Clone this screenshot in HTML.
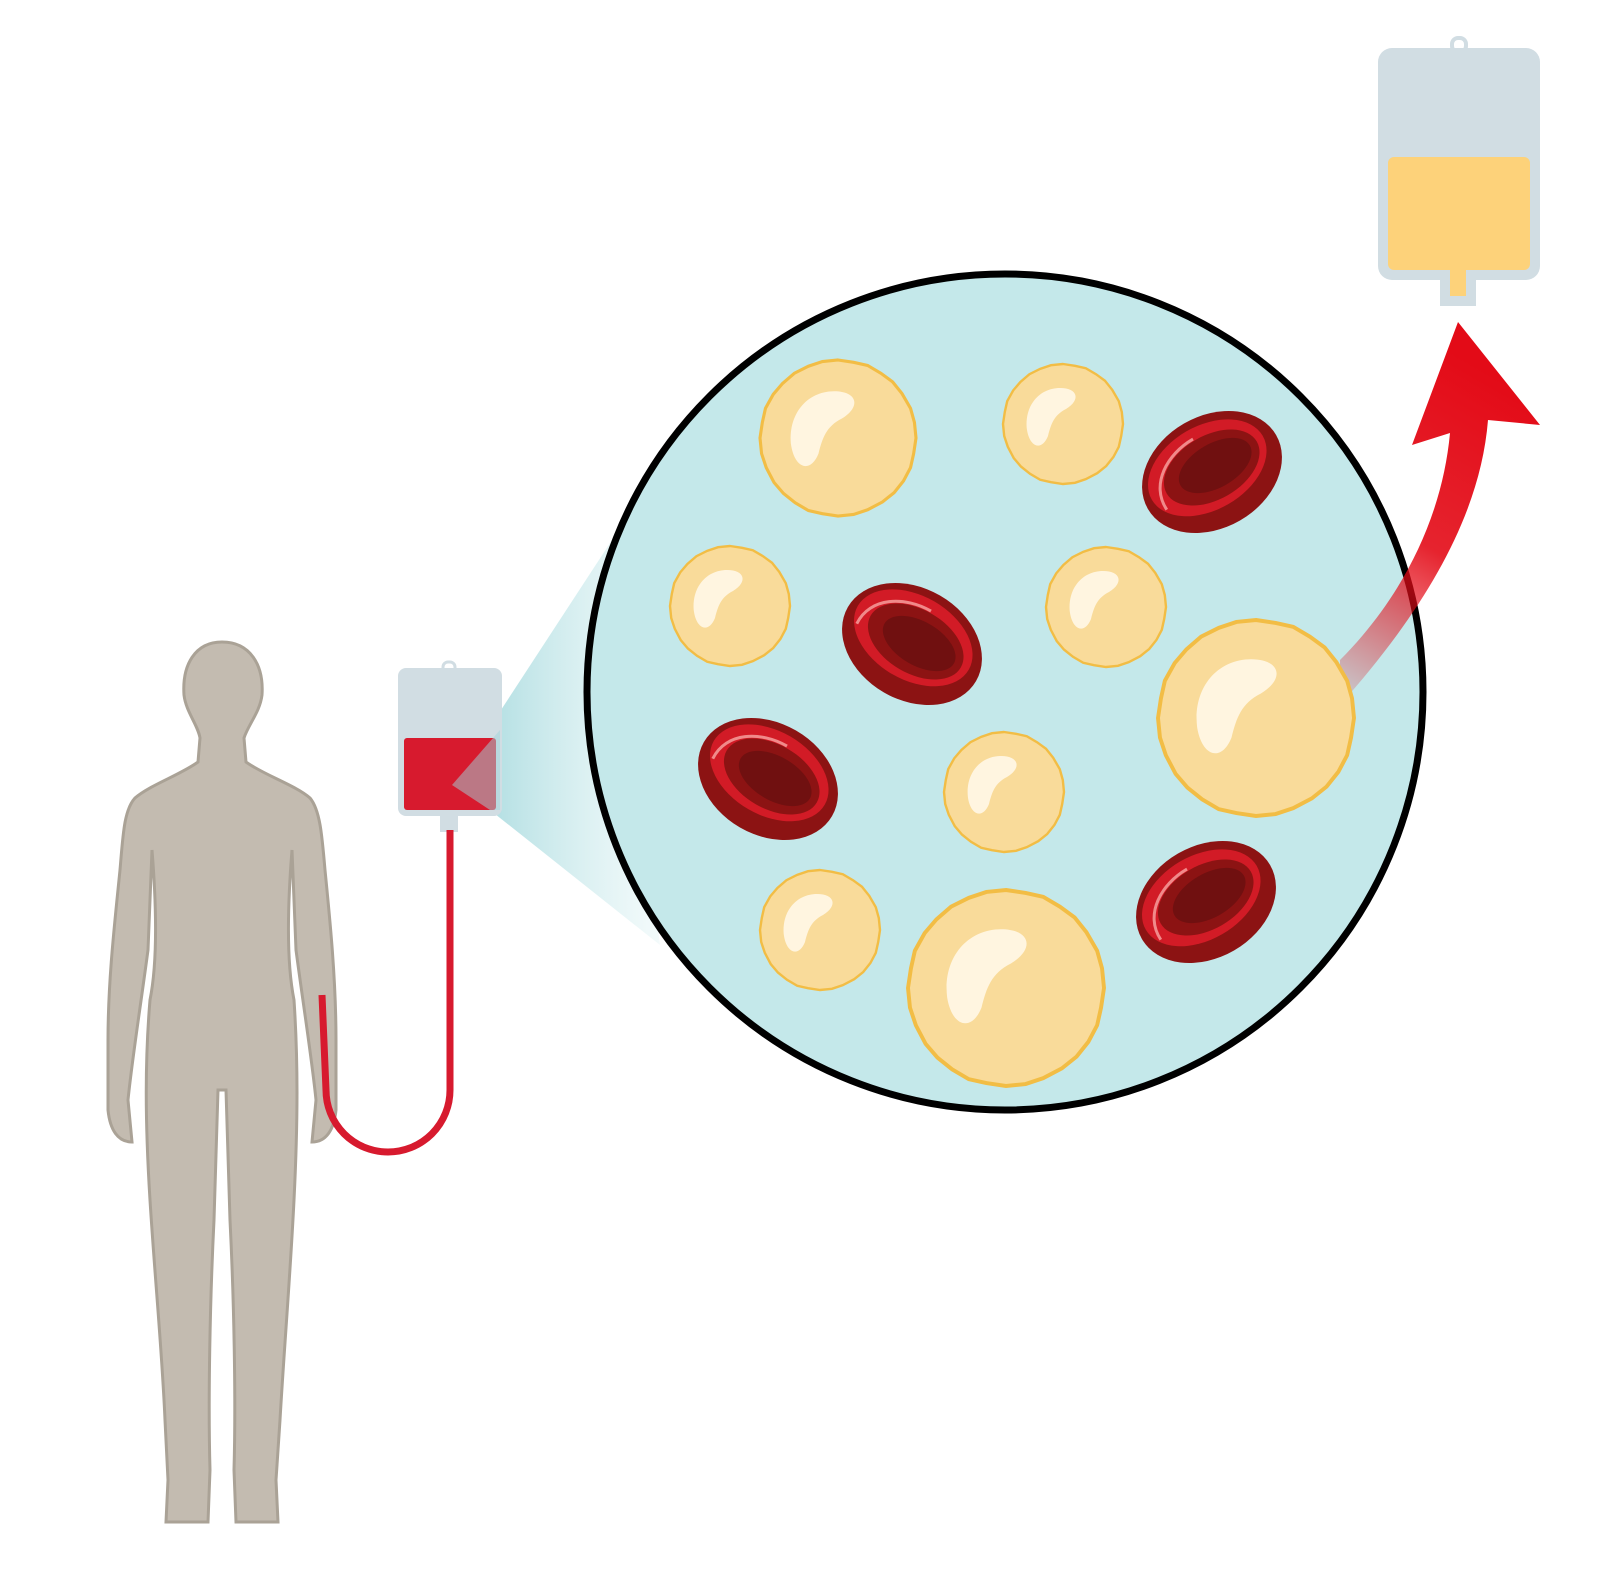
<!DOCTYPE html>
<html><head><meta charset="utf-8"><style>html,body{margin:0;padding:0;background:#fff}svg{display:block}</style></head>
<body>
<svg width="1599" height="1585" viewBox="0 0 1599 1585" xmlns="http://www.w3.org/2000/svg">
<defs>
<linearGradient id="cone" x1="0" y1="0" x2="1" y2="0">
<stop offset="0" stop-color="#9fd6db" stop-opacity="1"/>
<stop offset="1" stop-color="#c4e8ea" stop-opacity="0.2"/>
</linearGradient>
<linearGradient id="arr" x1="0" y1="1" x2="0.3" y2="0">
<stop offset="0" stop-color="#e30b17" stop-opacity="0.1"/>
<stop offset="0.5" stop-color="#e30b17" stop-opacity="0.9"/>
<stop offset="1" stop-color="#e30b17"/>
</linearGradient>
<g id="wc">
<path d="M0,-1 L0.2,-0.97 L0.38,-0.93 L0.55,-0.83 L0.7,-0.72 L0.82,-0.57 L0.93,-0.38 L0.98,-0.2 L1,0 L0.97,0.2 L0.93,0.38 L0.84,0.55 L0.72,0.7 L0.57,0.82 L0.38,0.92 L0.2,0.98 L0,1 L-0.2,0.97 L-0.38,0.93 L-0.55,0.83 L-0.7,0.71 L-0.82,0.57 L-0.92,0.38 L-0.98,0.2 L-1,0 L-0.97,-0.2 L-0.93,-0.38 L-0.83,-0.56 L-0.71,-0.7 L-0.56,-0.83 L-0.38,-0.92 L-0.2,-0.98 Z" fill="#f9db9a" stroke="#f2bd45" stroke-width="0.04"/>
<path d="M-0.6,0.1 C-0.65,-0.3 -0.4,-0.6 -0.05,-0.6 C0.25,-0.6 0.3,-0.4 0.05,-0.25 C-0.15,-0.15 -0.2,0 -0.25,0.2 C-0.35,0.45 -0.55,0.4 -0.6,0.1 Z" fill="#fff5e0"/>
</g>
<g id="rbc">
<ellipse cx="0" cy="0" rx="74" ry="56" fill="#8c1313"/>
<ellipse cx="-2" cy="-6" rx="64" ry="42" fill="#d21b26"/>
<ellipse cx="2" cy="-4" rx="52" ry="32" fill="#8c1313"/>
<ellipse cx="6" cy="-4" rx="40" ry="22" fill="#701010"/>
<path d="M-58,10 C-60,-20 -30,-38 0,-38" fill="none" stroke="#f08a8a" stroke-width="3"/>
</g>
</defs>

<polygon points="452,785 612,540 660,945 490,810" fill="url(#cone)"/>

<circle cx="1005" cy="692" r="418" fill="#c4e8ea" stroke="#000" stroke-width="7"/>

<path d="M1340,705 C1420,615 1480,520 1488,420 L1540,425 L1458,322 L1412,445 L1450,433 C1442,520 1400,600 1340,660 Z" fill="url(#arr)"/>

<use href="#wc" transform="translate(838,438) scale(78)"/>
<use href="#wc" transform="translate(1063,424) scale(60)"/>
<use href="#wc" transform="translate(730,606) scale(60)"/>
<use href="#wc" transform="translate(1106,607) scale(60)"/>
<use href="#wc" transform="translate(1256,718) scale(98)"/>
<use href="#wc" transform="translate(1004,792) scale(60)"/>
<use href="#wc" transform="translate(820,930) scale(60)"/>
<use href="#wc" transform="translate(1006,988) scale(98)"/>

<use href="#rbc" transform="translate(1212,472) rotate(-30)"/>
<use href="#rbc" transform="translate(912,644) rotate(30)"/>
<use href="#rbc" transform="translate(768,779) rotate(30)"/>
<use href="#rbc" transform="translate(1206,902) rotate(-30)"/>

<rect x="1452" y="38" width="14" height="14" rx="6" fill="none" stroke="#d1dde3" stroke-width="4"/>
<rect x="1378" y="48" width="162" height="232" rx="14" fill="#d1dde3"/>
<rect x="1388" y="157" width="142" height="113" rx="6" fill="#fdd27a"/>
<rect x="1440" y="272" width="36" height="34" fill="#d1dde3"/>
<rect x="1450" y="270" width="16" height="26" fill="#fdd27a"/>

<rect x="443" y="662" width="12" height="12" rx="5" fill="none" stroke="#d1dde3" stroke-width="3"/>
<rect x="398" y="668" width="104" height="148" rx="8" fill="#d1dde3"/>
<rect x="404" y="738" width="92" height="72" rx="3" fill="#d71a2e"/>
<rect x="440" y="812" width="18" height="20" fill="#d1dde3"/>
<polygon points="452,785 500,730 500,810 490,810" fill="#9fd6db" opacity="0.5"/>

<path d="M222,642 C195,642 182,665 184,695 C186,712 198,725 200,738 L198,762 C180,775 150,785 135,798 C124,810 123,835 120,870 C115,920 108,980 108,1040 L108,1110 C110,1130 118,1142 132,1142 L128,1100 C132,1060 140,1010 148,950 L152,850 C156,900 158,960 150,1000 C145,1060 145,1120 150,1200 C155,1280 162,1350 165,1420 L168,1480 L166,1522 L208,1522 L210,1470 C208,1400 210,1300 214,1220 L218,1090 L226,1090 L230,1220 C234,1300 236,1400 234,1470 L236,1522 L278,1522 L276,1480 L280,1420 C284,1350 290,1280 294,1200 C298,1120 298,1060 294,1000 C286,960 288,900 292,850 L296,950 C304,1010 312,1060 316,1100 L312,1142 C326,1142 334,1130 336,1110 L336,1040 C336,980 330,920 325,870 C322,835 320,810 310,798 C295,785 264,775 246,762 L244,738 C248,725 260,712 262,695 C264,665 250,642 222,642 Z" fill="#c3bbb0" stroke="#aaa296" stroke-width="3"/>

<path d="M450,830 L450,1090 A62,62 0 0 1 326,1090 L322,995" fill="none" stroke="#d71a2e" stroke-width="7"/>
</svg>
</body></html>
